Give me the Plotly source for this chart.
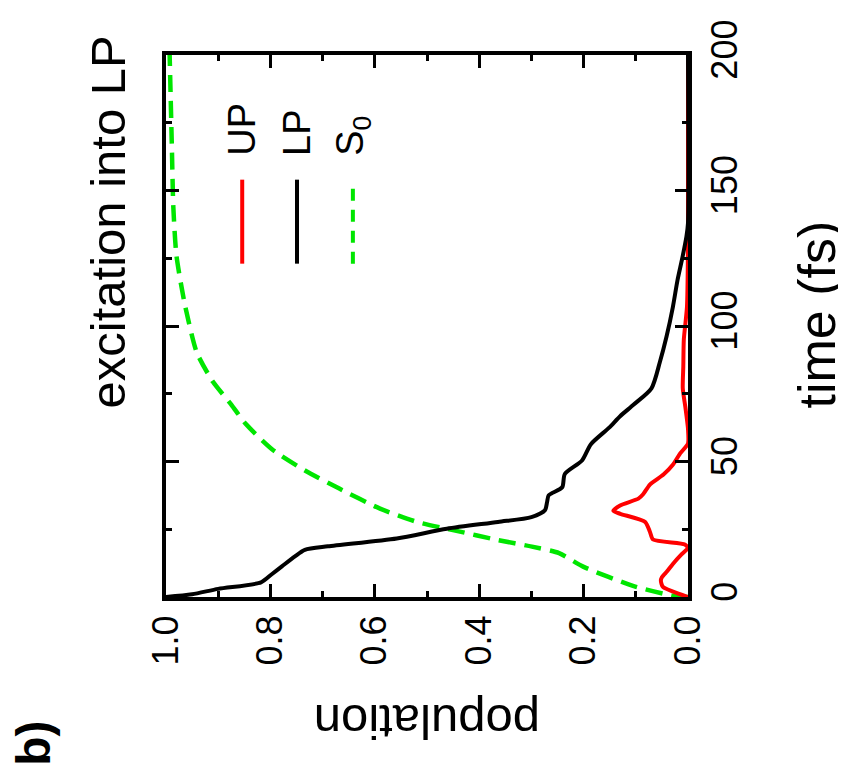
import plotly.graph_objects as go

# ---- data (time in fs, population) ----
lp_time = [0, 1, 3, 5.4, 8.3, 11.3, 15, 17.4, 18.7, 21.6, 25.2, 27.7, 29.5, 32, 35, 37.5,
           40.5, 45.4, 50.4, 56.4, 62.5, 66.7, 71, 77, 86.6, 96.2, 107, 117, 125, 133, 138, 200]
lp_pop = [1.0, 0.95, 0.90, 0.818, 0.798, 0.778, 0.753, 0.734, 0.69, 0.558, 0.462, 0.364,
          0.30, 0.274, 0.27, 0.267, 0.241, 0.236, 0.203, 0.186, 0.151, 0.13, 0.104, 0.07,
          0.054, 0.041, 0.029, 0.02, 0.011, 0.003, 0.0, 0.0]

up_time = [0, 3.7, 6, 7.3, 9.5, 12.2, 15.8, 18.1, 19.4, 21.2, 24.1, 27.7, 30.7, 31.8, 33.8,
           36.3, 37.9, 41.5, 45.2, 48.8, 53, 56.6, 62, 70, 77, 85, 95, 107, 130, 200]
up_pop = [0.0, 0.048, 0.052, 0.05, 0.04, 0.029, 0.012, 0.0, 0.006, 0.067, 0.073, 0.082, 0.13,
          0.143, 0.13, 0.095, 0.086, 0.073, 0.047, 0.029, 0.015, 0.0, 0.0, 0.005, 0.01, 0.009,
          0.008, 0.002, 0.0, 0.0]

s0_time = [0, 0.5, 4, 11.2, 16.2, 18.6, 21, 24.6, 27.7, 32.6, 40, 46.6, 54.5, 63.8, 71, 79.4,
           90.2, 108, 126, 144, 168, 200]
s0_pop = [0.0, 0.03, 0.104, 0.201, 0.247, 0.299, 0.364, 0.448, 0.519, 0.59, 0.668, 0.733,
          0.797, 0.847, 0.875, 0.91, 0.941, 0.964, 0.98, 0.986, 0.989, 0.993]

pop_ticks = [0.0, 0.2, 0.4, 0.6, 0.8, 1.0]
pop_ticktext = ["0.0", "0.2", "0.4", "0.6", "0.8", "1.0"]
time_ticks = [0, 50, 100, 150, 200]
time_ticktext = ["0", "50", "100", "150", "200"]

series_names = ["UP", "LP", "S<sub>0</sub>"]
series_colors = ["#ff0000", "#000000", "#00e600"]
legend_pop = [0.854, 0.749, 0.642]
legend_t = [123, 154]
legend_label_t = 162

FONT = "Liberation Sans, Arial, Helvetica, sans-serif"

fig = go.Figure()
fig.add_trace(go.Scatter(x=s0_pop, y=s0_time, mode="lines",
                         line=dict(color=series_colors[2], width=4.5, dash="17px,9px", shape="spline", smoothing=0.6)))
fig.add_trace(go.Scatter(x=up_pop, y=up_time, mode="lines",
                         line=dict(color=series_colors[0], width=4, shape="spline", smoothing=0.6)))
fig.add_trace(go.Scatter(x=lp_pop, y=lp_time, mode="lines",
                         line=dict(color=series_colors[1], width=4, shape="spline", smoothing=0.7)))

# manual legend (rotated)
for i in range(3):
    fig.add_shape(type="line", xref="x", yref="y", x0=legend_pop[i], x1=legend_pop[i],
                  y0=legend_t[0], y1=legend_t[1],
                  line=dict(color=series_colors[i], width=4, dash="12px,9px" if i == 2 else "solid"))
    fig.add_annotation(x=legend_pop[i], y=legend_label_t, xref="x", yref="y",
                       text=series_names[i], textangle=-90, showarrow=False,
                       xanchor="center", yanchor="bottom",
                       font=dict(family=FONT, size=38, color="black"))

fig.add_annotation(x=-0.112, y=0.692, xref="paper", yref="paper", text="excitation into LP",
                   textangle=-90, showarrow=False, xanchor="center", yanchor="middle",
                   font=dict(family=FONT, size=49, color="black"))
fig.add_annotation(x=1.247, y=0.521, xref="paper", yref="paper", text="time (fs)",
                   textangle=-90, showarrow=False, xanchor="center", yanchor="middle",
                   font=dict(family=FONT, size=52, color="black"))
fig.add_annotation(x=0.5, y=-0.231, xref="paper", yref="paper", text="population",
                   textangle=180, showarrow=False, xanchor="center", yanchor="middle",
                   font=dict(family=FONT, size=49, color="black"))
fig.add_annotation(x=-0.254, y=-0.27, xref="paper", yref="paper", text="<b>b)</b>",
                   textangle=-90, showarrow=False, xanchor="center", yanchor="middle",
                   font=dict(family=FONT, size=48, color="black"))

axis_common = dict(showline=True, linecolor="black", linewidth=4, mirror="ticks",
                   ticks="inside", ticklen=13, tickwidth=3, tickcolor="black",
                   showgrid=False, zeroline=False, tickangle=-90,
                   ticklabeloverflow="allow",
                   tickfont=dict(family=FONT, size=36, color="black"))

fig.update_xaxes(range=[1.0, 0.0], tickvals=pop_ticks, ticktext=pop_ticktext,
                 minor=dict(dtick=0.1, tick0=0, ticks="inside", ticklen=6, tickwidth=3, tickcolor="black"),
                 **axis_common)
fig.update_yaxes(range=[0, 200], side="right", tickvals=time_ticks, ticktext=time_ticktext,
                 ticklabelstandoff=2,
                 minor=dict(dtick=25, tick0=0, ticks="inside", ticklen=6, tickwidth=3, tickcolor="black"),
                 **axis_common)

# page body has an 8px margin, so the figure is drawn 8px smaller and offset
fig.update_layout(width=838, height=761, showlegend=False,
                  margin=dict(l=158, r=158, t=34, b=172, pad=0),
                  plot_bgcolor="white", paper_bgcolor="white")

fig.write_html("out.html")
